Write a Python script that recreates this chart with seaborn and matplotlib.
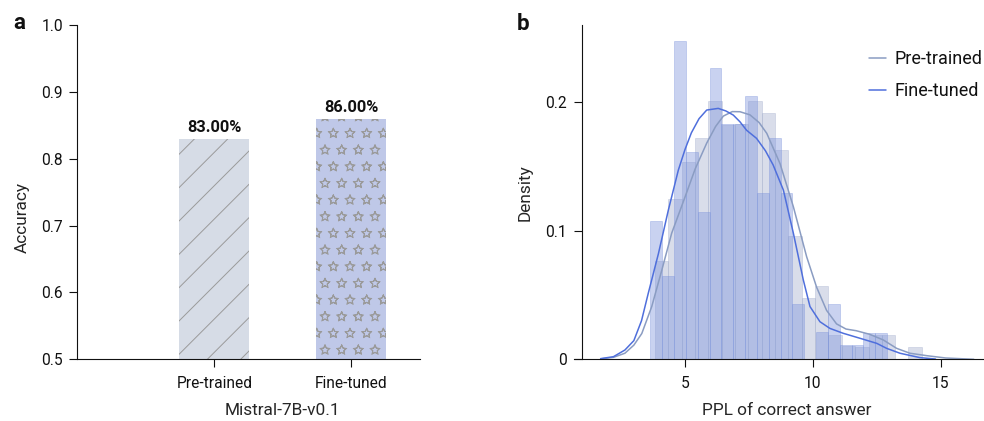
import matplotlib
matplotlib.use('Agg')
import matplotlib.hatch
import matplotlib.pyplot as plt
import numpy as np
import pandas as pd
import seaborn as sns
from matplotlib.colors import to_rgba

# ---- panel a: accuracy ----
models = ['Pre-trained', 'Fine-tuned']
accuracy = [0.83, 0.86]
acc_labels = ['83.00%', '86.00%']
acc_ticks = [0.5, 0.6, 0.7, 0.8, 0.9, 1.0]

# ---- panel b: PPL histograms (density per bin) ----
pt_edges = [3.83, 4.35, 4.87, 5.40, 5.92, 6.44, 6.96, 7.48, 8.00, 8.53, 9.05,
            9.57, 10.09, 10.61, 11.13, 11.66, 12.18, 12.70, 13.22, 13.74, 14.26]
pt_density = [0.0764, 0.1246, 0.1535, 0.172, 0.201, 0.182, 0.183, 0.201, 0.1915, 0.1627,
              0.0959, 0.0477, 0.057, 0.019, 0.0105, 0.0096, 0.019, 0.019, 0.0, 0.0096]

ft_edges = [3.64, 4.10, 4.57, 5.03, 5.49, 5.96, 6.42, 6.89, 7.35, 7.81, 8.28,
            8.74, 9.20, 9.67, 10.13, 10.59, 11.06, 11.52, 11.98, 12.45, 12.91]
ft_density = [0.1078, 0.065, 0.2477, 0.161, 0.1148, 0.2262, 0.183, 0.183, 0.2047, 0.1295,
              0.1718, 0.129, 0.043, 0.0, 0.0215, 0.043, 0.0108, 0.0108, 0.0207, 0.0207]

# KDE curves
pt_kde_x = [1.7, 2.2, 2.65, 3.0, 3.31, 3.70, 4.09, 4.48, 5.0, 5.4, 5.85, 6.2, 6.5, 6.85,
            7.15, 7.54, 7.9, 8.2, 8.72, 9.24, 9.76, 10.15, 10.54, 10.93, 11.3, 11.7,
            12.23, 12.76, 13.28, 13.8, 14.46, 15.2, 16.3]
pt_kde_y = [0.0003, 0.0015, 0.0047, 0.011, 0.020, 0.041, 0.069, 0.098, 0.126, 0.148,
            0.168, 0.181, 0.189, 0.1925, 0.1924, 0.19, 0.184, 0.1756, 0.152, 0.1186,
            0.0797, 0.056, 0.038, 0.0275, 0.0235, 0.0222, 0.0194, 0.015, 0.0085, 0.0047,
            0.0028, 0.001, 0.0]

ft_kde_x = [1.7, 2.2, 2.65, 3.0, 3.3, 3.56, 3.96, 4.35, 4.74, 5.0, 5.25, 5.55, 5.85, 6.3,
            6.6, 6.89, 7.15, 7.41, 7.8, 8.15, 8.45, 8.85, 9.24, 9.63, 9.89, 10.28, 10.67,
            11.19, 11.85, 12.5, 12.89, 13.41, 14.19, 14.8]
ft_kde_y = [0.0005, 0.002, 0.0072, 0.0145, 0.03, 0.051, 0.082, 0.116, 0.147, 0.163, 0.176,
            0.187, 0.1937, 0.195, 0.193, 0.1898, 0.1846, 0.178, 0.1717, 0.162, 0.151,
            0.1315, 0.098, 0.0616, 0.041, 0.0292, 0.024, 0.0202, 0.0163, 0.0124, 0.0085,
            0.0047, 0.0013, 0.0002]

PT_HIST = '#a0accb'
FT_HIST = '#7890db'
PT_LINE = '#8a9cc2'
FT_LINE = '#4f6fdc'

# hollow stars for the '*' hatch
matplotlib.hatch.Stars.filled = False
matplotlib.hatch.Stars.size = 0.3

sns.set_style('ticks')
plt.rcParams['font.family'] = ['Roboto', 'DejaVu Sans']
plt.rcParams['hatch.linewidth'] = 0.35
plt.rcParams['axes.linewidth'] = 0.4
plt.rcParams['xtick.major.width'] = 0.4
plt.rcParams['ytick.major.width'] = 0.4
plt.rcParams['xtick.major.size'] = 2.9
plt.rcParams['ytick.major.size'] = 2.9
plt.rcParams['xtick.major.pad'] = 3.0
plt.rcParams['ytick.major.pad'] = 2.3
plt.rcParams['axes.edgecolor'] = '#111111'
plt.rcParams['text.color'] = '#111111'
plt.rcParams['xtick.color'] = '#111111'
plt.rcParams['ytick.color'] = '#111111'

# drawn at dpi 200 so the hatch spacing matches
fig = plt.figure(figsize=(4.92, 2.105), dpi=200)
ax1 = fig.add_axes([0.0786, 0.1466, 0.3482, 0.794])
ax2 = fig.add_axes([0.5833, 0.1466, 0.4157, 0.794])

# ---- panel a ----
df_a = pd.DataFrame({'model': models, 'acc': accuracy})
sns.barplot(data=df_a, x='model', y='acc', hue='model', palette=['#d3dbe9', '#b8c4ef'],
            width=0.51, edgecolor='#9a9a9a', linewidth=0, legend=False, ax=ax1)
for bar, h in zip(ax1.patches, ['//', '**']):
    bar.set_hatch(h)
for i, (v, lab) in enumerate(zip(accuracy, acc_labels)):
    ax1.text(i, v + 0.005, lab, ha='center', va='bottom', fontsize=5.9, fontweight='bold')
ax1.set_ylim(0.5, 1.0)
ax1.set_xlim(-1, 1.5)
ax1.set_yticks(acc_ticks)
ax1.set_yticklabels([f'{t:.1f}' for t in acc_ticks])
ax1.tick_params(labelsize=5.6)
ax1.set_xlabel('Mistral-7B-v0.1', fontsize=6.2, va='top')
ax1.set_ylabel('Accuracy', fontsize=6.2)
ax1.xaxis.set_label_coords(0.599, -0.132)
ax1.yaxis.set_label_coords(-0.140, 0.424)
sns.despine(ax=ax1)

# ---- panel b ----
pt_centers = [(a + b) / 2 for a, b in zip(pt_edges[:-1], pt_edges[1:])]
ft_centers = [(a + b) / 2 for a, b in zip(ft_edges[:-1], ft_edges[1:])]
sns.histplot(x=pt_centers, weights=pt_density, bins=pt_edges, stat='count', ax=ax2,
             facecolor=to_rgba(PT_HIST, 0.4), edgecolor=to_rgba(PT_HIST, 0.4), linewidth=0.3)
sns.histplot(x=ft_centers, weights=ft_density, bins=ft_edges, stat='count', ax=ax2,
             facecolor=to_rgba(FT_HIST, 0.4), edgecolor=to_rgba(FT_HIST, 0.4), linewidth=0.3)
sns.lineplot(x=pt_kde_x, y=pt_kde_y, color=PT_LINE, lw=0.55, sort=False,
             estimator=None, label='Pre-trained', ax=ax2)
sns.lineplot(x=ft_kde_x, y=ft_kde_y, color=FT_LINE, lw=0.55, sort=False,
             estimator=None, label='Fine-tuned', ax=ax2)
ax2.set_xlim(0.657, 16.66)
ax2.set_ylim(0, 0.2598)
ax2.set_xticks([5, 10, 15])
ax2.set_yticks([0, 0.1, 0.2])
ax2.set_yticklabels(['0', '0.1', '0.2'])
ax2.tick_params(labelsize=5.6)
ax2.set_xlabel('PPL of correct answer', fontsize=6.2, va='top')
ax2.set_ylabel('Density', fontsize=6.2)
ax2.xaxis.set_label_coords(0.521, -0.132)
ax2.yaxis.set_label_coords(-0.100, 0.5)
sns.despine(ax=ax2)
ax2.spines['left'].set_position(('axes', 0.0188))
ax2.legend(frameon=False, fontsize=6.5, loc='upper right', bbox_to_anchor=(1.015, 0.946),
           handlelength=0.95, handletextpad=0.45, labelspacing=0.75, borderaxespad=0.0)

fig.text(13 / 984, 1 - 29 / 421, 'a', fontsize=8, fontweight='bold', va='baseline')
fig.text(517 / 984, 1 - 30 / 421, 'b', fontsize=8, fontweight='bold', va='baseline')

fig.savefig('out.png', dpi=200)
